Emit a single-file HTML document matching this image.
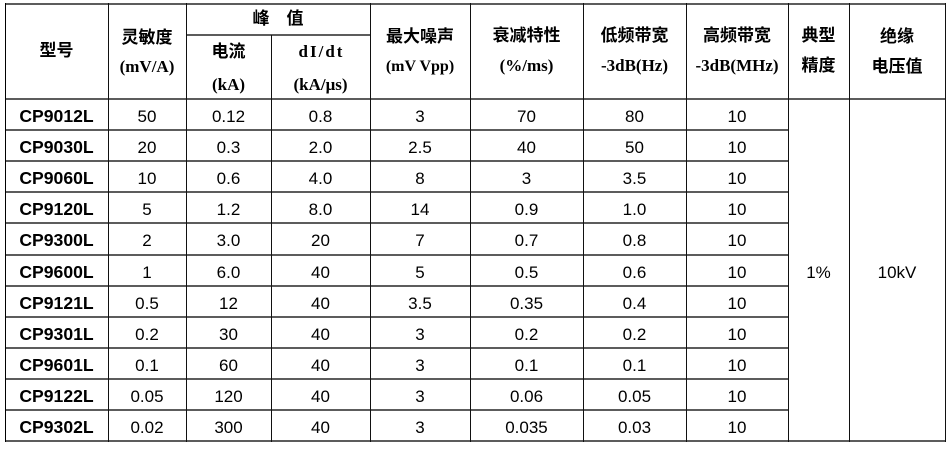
<!DOCTYPE html>
<html><head><meta charset="utf-8">
<style>
html,body{margin:0;padding:0;background:#fff;}
body{width:952px;height:451px;position:relative;overflow:hidden;}
.v{position:absolute;width:1px;background:#111;}
.h{position:absolute;height:2px;background:#5c5c5c;}
.t{position:absolute;text-align:center;white-space:nowrap;color:#000;}
.cj{font-family:"Liberation Sans","Noto Sans CJK SC",sans-serif;font-weight:bold;font-size:17px;height:20px;line-height:20px;}
.se{font-family:"Liberation Serif","Noto Serif CJK SC",serif;font-weight:bold;font-size:17px;height:20px;line-height:20px;}
.d{font-family:"Liberation Sans",sans-serif;font-size:17px;height:31px;line-height:31px;}
.m{font-family:"Liberation Sans",sans-serif;font-weight:bold;font-size:17.6px;height:31px;line-height:31px;}
</style></head><body>
<!-- horizontal lines -->
<div class="h" style="left:5px;width:941px;top:3px;"></div>
<div class="h" style="left:186px;width:185px;top:34px;"></div>
<div class="h" style="left:5px;width:941px;top:98px;"></div>
<div class="h" style="left:5px;width:783px;top:129.1px;"></div>
<div class="h" style="left:5px;width:783px;top:160.2px;"></div>
<div class="h" style="left:5px;width:783px;top:191.3px;"></div>
<div class="h" style="left:5px;width:783px;top:222.4px;"></div>
<div class="h" style="left:5px;width:783px;top:253.5px;"></div>
<div class="h" style="left:5px;width:783px;top:284.5px;"></div>
<div class="h" style="left:5px;width:783px;top:315.6px;"></div>
<div class="h" style="left:5px;width:783px;top:346.7px;"></div>
<div class="h" style="left:5px;width:783px;top:377.8px;"></div>
<div class="h" style="left:5px;width:783px;top:408.9px;"></div>
<div class="h" style="left:5px;width:941px;top:440px;"></div>
<!-- vertical lines -->
<div class="v" style="left:5px;top:3px;height:439px;background:#000;"></div>
<div class="v" style="left:108px;top:3px;height:439px;"></div>
<div class="v" style="left:186px;top:3px;height:439px;"></div>
<div class="v" style="left:271px;top:35px;height:407px;"></div>
<div class="v" style="left:370px;top:3px;height:439px;"></div>
<div class="v" style="left:470px;top:3px;height:439px;"></div>
<div class="v" style="left:583px;top:3px;height:439px;"></div>
<div class="v" style="left:686px;top:3px;height:439px;"></div>
<div class="v" style="left:788px;top:3px;height:439px;"></div>
<div class="v" style="left:849px;top:3px;height:439px;"></div>
<div class="v" style="left:945px;top:3px;height:439px;"></div>

<!-- header -->
<div class="t cj" style="left:5px;width:103px;top:41px;">型号</div>
<div class="t cj" style="left:108px;width:78px;top:28px;">灵敏度</div>
<div class="t se" style="left:108px;width:78px;top:57px;">(mV/A)</div>
<div class="t cj" style="left:186px;width:184px;top:9px;">峰　值</div>
<div class="t cj" style="left:186px;width:85px;top:42px;">电流</div>
<div class="t se" style="left:186px;width:85px;top:75px;">(kA)</div>
<div class="t se" style="left:271px;width:99px;top:42px;letter-spacing:2px;text-indent:2px;">dI/dt</div>
<div class="t se" style="left:271px;width:99px;top:75px;">(kA/μs)</div>
<div class="t cj" style="left:370px;width:100px;top:27px;">最大噪声</div>
<div class="t se" style="left:370px;width:100px;top:57px;font-size:16px;">(mV Vpp)</div>
<div class="t cj" style="left:470px;width:113px;top:26px;">衰减特性</div>
<div class="t se" style="left:470px;width:113px;top:56px;">(%/ms)</div>
<div class="t cj" style="left:583px;width:103px;top:26px;">低频带宽</div>
<div class="t se" style="left:583px;width:103px;top:56px;">-3dB(Hz)</div>
<div class="t cj" style="left:686px;width:102px;top:26px;">高频带宽</div>
<div class="t se" style="left:686px;width:102px;top:56px;">-3dB(MHz)</div>
<div class="t cj" style="left:788px;width:61px;top:26px;">典型</div>
<div class="t cj" style="left:788px;width:61px;top:56px;">精度</div>
<div class="t cj" style="left:849px;width:96px;top:27px;">绝缘</div>
<div class="t cj" style="left:849px;width:96px;top:57px;">电压值</div>

<!-- merged cells -->
<div class="t d" style="left:788px;width:61px;top:257px;">1%</div>
<div class="t d" style="left:849px;width:96px;top:257px;">10kV</div>

<!-- data rows -->
<div style="position:absolute;left:0;top:101px;">
<div class="t m" style="left:5px;width:103px;top:0px;">CP9012L</div>
<div class="t d" style="left:108px;width:78px;top:0px;">50</div>
<div class="t d" style="left:186px;width:85px;top:0px;">0.12</div>
<div class="t d" style="left:271px;width:99px;top:0px;">0.8</div>
<div class="t d" style="left:370px;width:100px;top:0px;">3</div>
<div class="t d" style="left:470px;width:113px;top:0px;">70</div>
<div class="t d" style="left:583px;width:103px;top:0px;">80</div>
<div class="t d" style="left:686px;width:102px;top:0px;">10</div>

<div class="t m" style="left:5px;width:103px;top:31.1px;">CP9030L</div>
<div class="t d" style="left:108px;width:78px;top:31.1px;">20</div>
<div class="t d" style="left:186px;width:85px;top:31.1px;">0.3</div>
<div class="t d" style="left:271px;width:99px;top:31.1px;">2.0</div>
<div class="t d" style="left:370px;width:100px;top:31.1px;">2.5</div>
<div class="t d" style="left:470px;width:113px;top:31.1px;">40</div>
<div class="t d" style="left:583px;width:103px;top:31.1px;">50</div>
<div class="t d" style="left:686px;width:102px;top:31.1px;">10</div>

<div class="t m" style="left:5px;width:103px;top:62.2px;">CP9060L</div>
<div class="t d" style="left:108px;width:78px;top:62.2px;">10</div>
<div class="t d" style="left:186px;width:85px;top:62.2px;">0.6</div>
<div class="t d" style="left:271px;width:99px;top:62.2px;">4.0</div>
<div class="t d" style="left:370px;width:100px;top:62.2px;">8</div>
<div class="t d" style="left:470px;width:113px;top:62.2px;">3</div>
<div class="t d" style="left:583px;width:103px;top:62.2px;">3.5</div>
<div class="t d" style="left:686px;width:102px;top:62.2px;">10</div>

<div class="t m" style="left:5px;width:103px;top:93.3px;">CP9120L</div>
<div class="t d" style="left:108px;width:78px;top:93.3px;">5</div>
<div class="t d" style="left:186px;width:85px;top:93.3px;">1.2</div>
<div class="t d" style="left:271px;width:99px;top:93.3px;">8.0</div>
<div class="t d" style="left:370px;width:100px;top:93.3px;">14</div>
<div class="t d" style="left:470px;width:113px;top:93.3px;">0.9</div>
<div class="t d" style="left:583px;width:103px;top:93.3px;">1.0</div>
<div class="t d" style="left:686px;width:102px;top:93.3px;">10</div>

<div class="t m" style="left:5px;width:103px;top:124.4px;">CP9300L</div>
<div class="t d" style="left:108px;width:78px;top:124.4px;">2</div>
<div class="t d" style="left:186px;width:85px;top:124.4px;">3.0</div>
<div class="t d" style="left:271px;width:99px;top:124.4px;">20</div>
<div class="t d" style="left:370px;width:100px;top:124.4px;">7</div>
<div class="t d" style="left:470px;width:113px;top:124.4px;">0.7</div>
<div class="t d" style="left:583px;width:103px;top:124.4px;">0.8</div>
<div class="t d" style="left:686px;width:102px;top:124.4px;">10</div>

<div class="t m" style="left:5px;width:103px;top:155.5px;">CP9600L</div>
<div class="t d" style="left:108px;width:78px;top:155.5px;">1</div>
<div class="t d" style="left:186px;width:85px;top:155.5px;">6.0</div>
<div class="t d" style="left:271px;width:99px;top:155.5px;">40</div>
<div class="t d" style="left:370px;width:100px;top:155.5px;">5</div>
<div class="t d" style="left:470px;width:113px;top:155.5px;">0.5</div>
<div class="t d" style="left:583px;width:103px;top:155.5px;">0.6</div>
<div class="t d" style="left:686px;width:102px;top:155.5px;">10</div>

<div class="t m" style="left:5px;width:103px;top:186.5px;">CP9121L</div>
<div class="t d" style="left:108px;width:78px;top:186.5px;">0.5</div>
<div class="t d" style="left:186px;width:85px;top:186.5px;">12</div>
<div class="t d" style="left:271px;width:99px;top:186.5px;">40</div>
<div class="t d" style="left:370px;width:100px;top:186.5px;">3.5</div>
<div class="t d" style="left:470px;width:113px;top:186.5px;">0.35</div>
<div class="t d" style="left:583px;width:103px;top:186.5px;">0.4</div>
<div class="t d" style="left:686px;width:102px;top:186.5px;">10</div>

<div class="t m" style="left:5px;width:103px;top:217.6px;">CP9301L</div>
<div class="t d" style="left:108px;width:78px;top:217.6px;">0.2</div>
<div class="t d" style="left:186px;width:85px;top:217.6px;">30</div>
<div class="t d" style="left:271px;width:99px;top:217.6px;">40</div>
<div class="t d" style="left:370px;width:100px;top:217.6px;">3</div>
<div class="t d" style="left:470px;width:113px;top:217.6px;">0.2</div>
<div class="t d" style="left:583px;width:103px;top:217.6px;">0.2</div>
<div class="t d" style="left:686px;width:102px;top:217.6px;">10</div>

<div class="t m" style="left:5px;width:103px;top:248.7px;">CP9601L</div>
<div class="t d" style="left:108px;width:78px;top:248.7px;">0.1</div>
<div class="t d" style="left:186px;width:85px;top:248.7px;">60</div>
<div class="t d" style="left:271px;width:99px;top:248.7px;">40</div>
<div class="t d" style="left:370px;width:100px;top:248.7px;">3</div>
<div class="t d" style="left:470px;width:113px;top:248.7px;">0.1</div>
<div class="t d" style="left:583px;width:103px;top:248.7px;">0.1</div>
<div class="t d" style="left:686px;width:102px;top:248.7px;">10</div>

<div class="t m" style="left:5px;width:103px;top:279.8px;">CP9122L</div>
<div class="t d" style="left:108px;width:78px;top:279.8px;">0.05</div>
<div class="t d" style="left:186px;width:85px;top:279.8px;">120</div>
<div class="t d" style="left:271px;width:99px;top:279.8px;">40</div>
<div class="t d" style="left:370px;width:100px;top:279.8px;">3</div>
<div class="t d" style="left:470px;width:113px;top:279.8px;">0.06</div>
<div class="t d" style="left:583px;width:103px;top:279.8px;">0.05</div>
<div class="t d" style="left:686px;width:102px;top:279.8px;">10</div>

<div class="t m" style="left:5px;width:103px;top:310.9px;">CP9302L</div>
<div class="t d" style="left:108px;width:78px;top:310.9px;">0.02</div>
<div class="t d" style="left:186px;width:85px;top:310.9px;">300</div>
<div class="t d" style="left:271px;width:99px;top:310.9px;">40</div>
<div class="t d" style="left:370px;width:100px;top:310.9px;">3</div>
<div class="t d" style="left:470px;width:113px;top:310.9px;">0.035</div>
<div class="t d" style="left:583px;width:103px;top:310.9px;">0.03</div>
<div class="t d" style="left:686px;width:102px;top:310.9px;">10</div>
</div>
</body></html>
